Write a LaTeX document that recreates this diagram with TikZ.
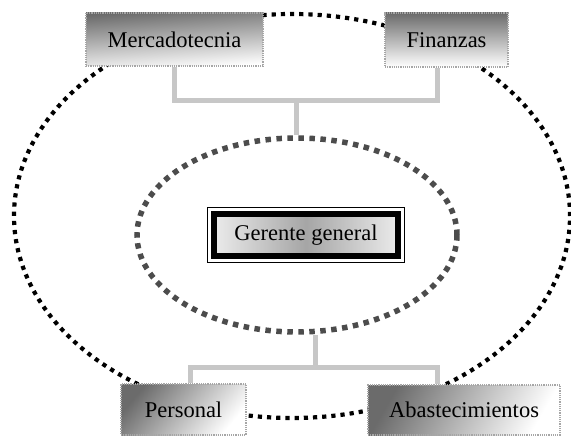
\documentclass[tikz,border=0pt]{standalone}
\usepackage{fontspec}
\setmainfont{Liberation Serif}
\usetikzlibrary{shapes.geometric,backgrounds}
\begin{document}
\begin{tikzpicture}[x=1pt,y=-1pt,
  unitbox/.style={rectangle, inner sep=0pt, draw=black!35, densely dotted,
    line width=1.2pt, font=\fontsize{22.5}{26}\selectfont, text=black,
    top color=black!58, bottom color=white},
  bus/.style={draw=black!22, line width=5pt},
  outerring/.style={ellipse, inner sep=0pt, draw=black, line width=4.2pt,
    dash pattern=on 4.2pt off 5pt},
  innerring/.style={ellipse, inner sep=0pt, draw=black!70, line width=5.5pt,
    dash pattern=on 5.5pt off 5.5pt},
  chief/.style={rectangle, inner sep=0pt, draw=black, line width=6pt,
    font=\fontsize{22.5}{26}\selectfont, text=black,
    left color=white!92!black, right color=white!92!black, middle color=black!35}
]
\useasboundingbox (0,0) rectangle (571,436);

% rings
\node[outerring, minimum width=556pt, minimum height=404pt] (outer) at (292,216) {};
\node[innerring, minimum width=320pt, minimum height=194pt] (inner) at (297,235) {};

% general manager
\node[chief, minimum width=184pt, minimum height=42pt] (gg) at (306,235) {Gerente general};
\draw[line width=0.9pt] ([xshift=-3.5pt,yshift=-3.5pt]gg.south west) rectangle ([xshift=3.5pt,yshift=3.5pt]gg.north east);

% departments
\node[unitbox, shading angle=4, minimum width=177pt, minimum height=53pt] (merc) at (174.5,39.5) {Mercadotecnia};
\node[unitbox, shading angle=0, minimum width=123pt, minimum height=54pt] (fin) at (446.5,40) {Finanzas};
\node[unitbox, shading angle=50, minimum width=125pt, minimum height=51pt] (pers) at (183.5,409.5) {Personal};
\node[unitbox, shading angle=60, minimum width=192pt, minimum height=50pt] (abas) at (464,410) {Abastecimientos};

% connectors
\coordinate (topbus) at (296,101);
\coordinate (botbus) at (315,367);
\begin{pgfonlayer}{background}
  \draw[bus] (merc.south) |- (topbus) -| ([xshift=-9pt]fin.south);
  \draw[bus] (topbus) -- (topbus |- inner.north);
  \draw[bus] ([xshift=7pt]pers.north) |- (botbus) -| ([xshift=-27pt]abas.north);
  \draw[bus] (botbus) -- (botbus |- inner.south);
\end{pgfonlayer}
\end{tikzpicture}
\end{document}
